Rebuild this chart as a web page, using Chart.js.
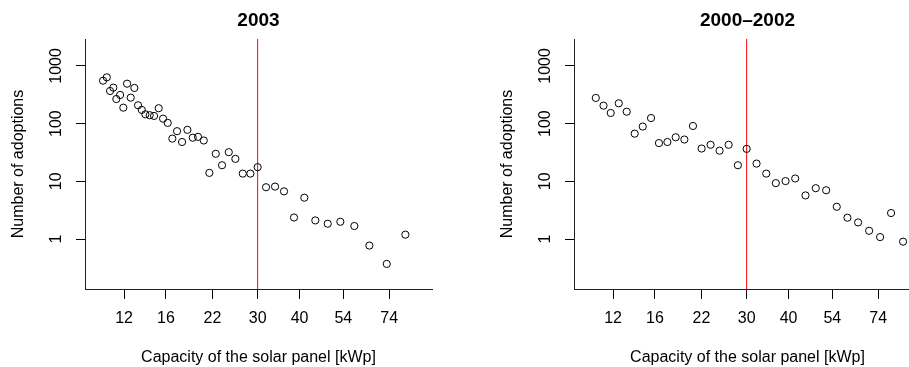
<!DOCTYPE html>
<html>
<head>
<meta charset="utf-8">
<script src="https://cdn.jsdelivr.net/npm/chart.js@4/dist/chart.umd.min.js"></script>
<style>
  html, body { margin: 0; padding: 0; background: #fff; }
  #wrap { position: relative; width: 909px; height: 367px; overflow: hidden; }
  canvas { position: absolute; top: 0; }
  #panel2003 { left: 0; }
  #panelEarly { left: 489px; }
</style>
</head>
<body>
<div id="wrap">
  <canvas id="panel2003" width="455" height="367"></canvas>
  <canvas id="panelEarly" width="455" height="367"></canvas>
</div>
<script>
// tick labels on both axes
const xTicks = [12, 16, 22, 30, 40, 54, 74];
const yTicks = [1, 10, 100, 1000];

// the vertical red marker
const threshold = [30];

// axis ranges (log scales)
const xRange = [9.18, 99.2];
const yRange = [0.136, 2930];

// 2003
const capacity2003 = [10.39, 10.66, 10.90, 11.15, 11.38, 11.68, 11.94, 12.25, 12.56, 12.88,
    13.21, 13.55, 13.89, 14.31, 14.74, 15.22, 15.68, 16.19, 16.71, 17.26,
    17.86, 18.53, 19.22, 19.93, 20.73, 21.54, 22.51, 23.50, 24.61, 25.75,
    27.09, 28.54, 30.0, 31.78, 33.80, 35.95, 38.50, 41.32, 44.56, 48.52,
    52.90, 58.24, 64.55, 72.73, 82.63];
const adoptions2003 = [555, 635, 368, 420, 267, 314, 189, 492, 282, 415,
    208, 173, 145, 140, 136, 185, 122, 103, 55, 74,
    48, 78, 57, 59, 51, 14, 30, 19, 32, 24.5,
    13.6, 13.6, 17.6, 7.9, 8.1, 6.7, 2.36, 5.2, 2.1, 1.84,
    1.99, 1.68, 0.77, 0.37, 1.19];

// 2000-2002
const capacityEarly = [10.66, 11.24, 11.81, 12.48, 13.18, 13.92, 14.71, 15.57, 16.44, 17.42,
    18.44, 19.57, 20.76, 22.03, 23.43, 24.92, 26.51, 28.25, 30.0, 32.11,
    34.32, 36.65, 39.17, 41.86, 44.92, 48.20, 51.76, 55.66, 59.89, 64.45,
    69.49, 74.93, 80.79, 87.71];
const adoptionsEarly = [279, 205, 153, 225, 161, 67, 89, 125, 46, 48,
    58, 53, 91, 37, 43, 34, 43, 19, 36.5, 20.3,
    13.6, 9.3, 10.1, 11.2, 5.7, 7.6, 7.0, 3.62, 2.34, 1.94,
    1.39, 1.08, 2.82, 0.90];

Chart.defaults.font.family = "'Liberation Sans', Arial, Helvetica, sans-serif";
Chart.defaults.color = '#000';

function makePanel(canvasId, title, xs, ys)
{
    const points = xs.map((x, i) => ({ x: x, y: ys[i] }));
    const marker = [{ x: threshold[0], y: yRange[0] }, { x: threshold[0], y: yRange[1] }];

    return new Chart(document.getElementById(canvasId), {
        type: 'scatter',
        data: {
            datasets: [
                {
                    data: points,
                    showLine: false,
                    pointStyle: 'circle',
                    pointRadius: 3.6,
                    pointBorderWidth: 1,
                    pointBorderColor: '#000',
                    pointBackgroundColor: 'rgba(0,0,0,0)',
                    order: 0
                },
                {
                    type: 'line',
                    data: marker,
                    borderColor: '#ff0000',
                    borderWidth: 1,
                    pointRadius: 0,
                    fill: false,
                    order: 1
                }
            ]
        },
        options: {
            responsive: false,
            animation: false,
            events: [],
            layout: { padding: { left: 0, right: 23, top: 0, bottom: 0 } },
            plugins: {
                legend: { display: false },
                tooltip: { enabled: false },
                title: {
                    display: true,
                    text: title,
                    fullSize: false,
                    color: '#000',
                    font: { size: 19, weight: 'bold' },
                    padding: { top: 9.3, bottom: 6.9 }
                }
            },
            scales: {
                x: {
                    type: 'logarithmic',
                    position: 'bottom',
                    min: xRange[0],
                    max: xRange[1],
                    afterBuildTicks: (s) => { s.ticks = xTicks.map(v => ({ value: v })); },
                    afterFit: (s) => { s.height = 78; },
                    ticks: {
                        autoSkip: false,
                        minRotation: 0,
                        maxRotation: 0,
                        padding: 10,
                        color: '#000',
                        font: { size: 16 },
                        callback: (v) => String(v)
                    },
                    grid: { drawOnChartArea: false, tickLength: 10, tickColor: '#000', color: '#000' },
                    border: { color: '#222' },
                    title: {
                        display: true,
                        text: 'Capacity of the solar panel [kWp]',
                        color: '#000',
                        font: { size: 16, lineHeight: 1.0 },
                        padding: { top: 0, bottom: 1 }
                    }
                },
                y: {
                    type: 'logarithmic',
                    position: 'left',
                    min: yRange[0],
                    max: yRange[1],
                    afterBuildTicks: (s) => { s.ticks = yTicks.map(v => ({ value: v })); },
                    afterFit: (s) => { s.width = 85; },
                    ticks: {
                        autoSkip: false,
                        minRotation: 90,
                        maxRotation: 90,
                        crossAlign: 'center',
                        padding: 2,
                        color: '#000',
                        font: { size: 16 },
                        callback: (v) => String(v)
                    },
                    grid: { drawOnChartArea: false, tickLength: 9, tickColor: '#000', color: '#000' },
                    border: { color: '#222' },
                    title: {
                        display: true,
                        text: 'Number of adoptions',
                        color: '#000',
                        font: { size: 16 },
                        padding: { top: 9, bottom: 0 }
                    }
                }
            }
        }
    });
}

makePanel('panel2003', '2003', capacity2003, adoptions2003);
makePanel('panelEarly', '2000\u20132002', capacityEarly, adoptionsEarly);
</script>
</body>
</html>
